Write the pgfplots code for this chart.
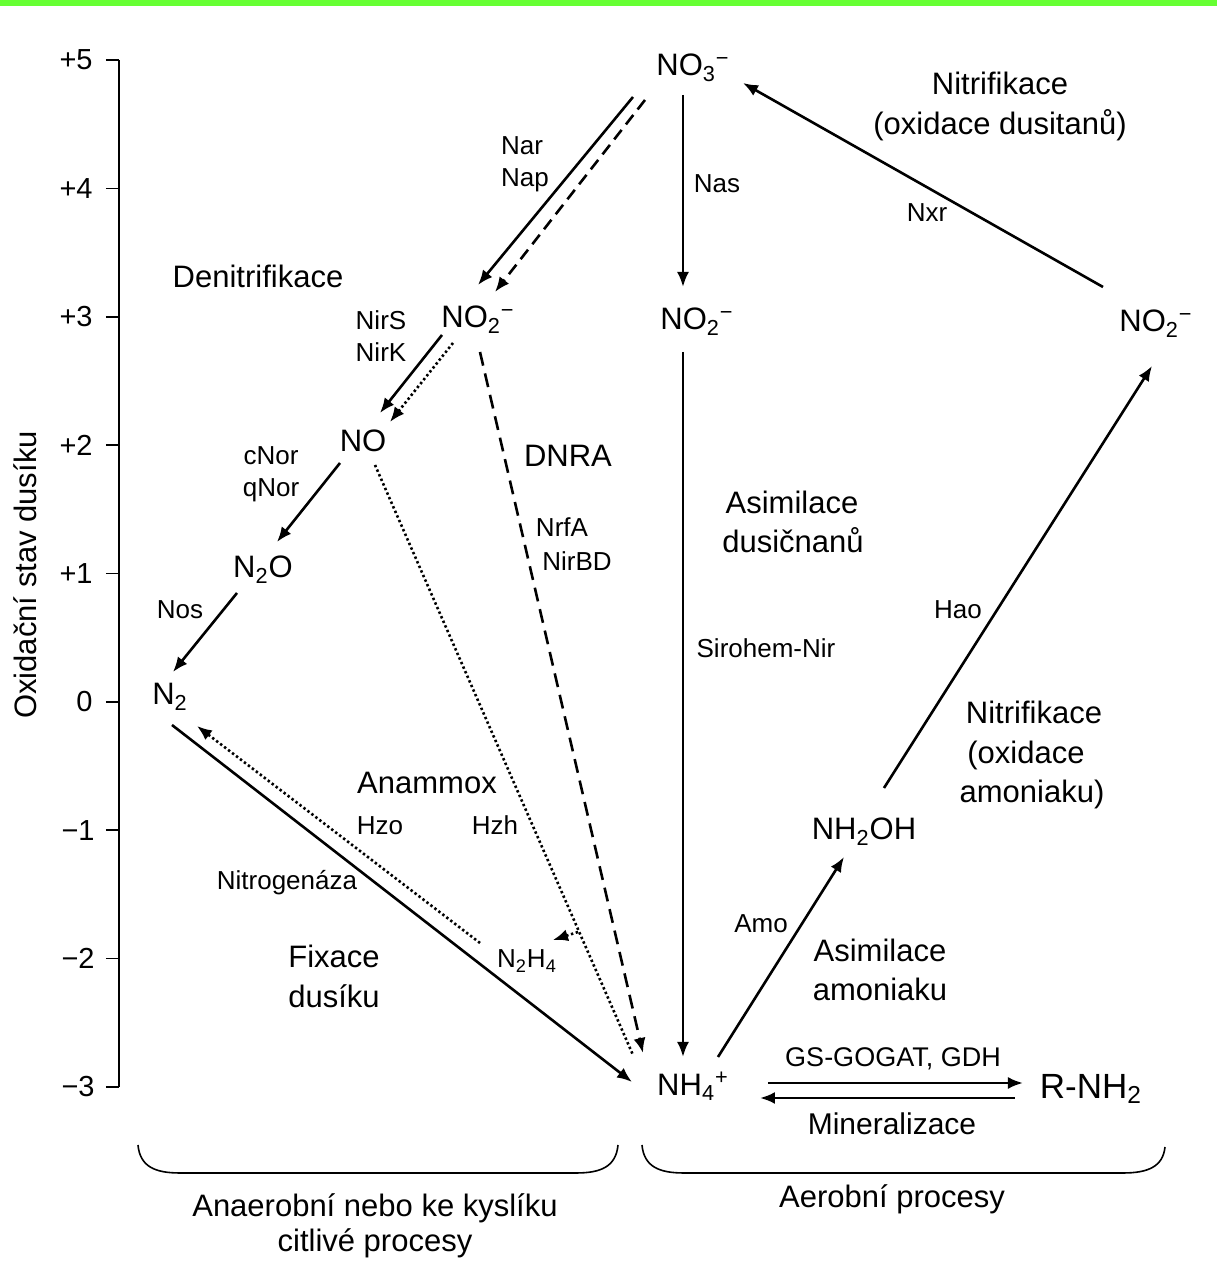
\documentclass[border=0pt]{standalone}
\usepackage{fontspec}
\setmainfont{Liberation Sans}
\usepackage{pgfplots}
\pgfplotsset{compat=1.18}
\usetikzlibrary{arrows.meta}
\newcommand{\dn}[1]{\textsubscript{#1}}
\newcommand{\up}[1]{\textsuperscript{#1}}
\tikzset{
  arr/.style={line width=1.3pt,-{Latex[length=7.5pt,width=6pt]}},
  dsh/.style={line width=1.3pt,dash pattern=on 6pt off 3.5pt,-{Latex[length=7.5pt,width=6pt]}},
  dot/.style={line width=1.3pt,dash pattern=on 1.2pt off 1.3pt},
  big/.style={font=\fontsize{15.5}{18}\selectfont,anchor=base,inner sep=0pt},
  sp/.style={font=\fontsize{15.5}{18}\selectfont,anchor=base,inner sep=0pt},
  sm/.style={font=\fontsize{13}{16}\selectfont,anchor=base,inner sep=0pt},
  tk/.style={font=\fontsize{14.5}{16}\selectfont,anchor=east,inner sep=0pt},
}
\begin{document}
\begin{tikzpicture}
\begin{axis}[width=608.5pt,height=634pt,scale only axis,
  xmin=0,xmax=1217,ymin=-4.4098,ymax=5.4676,hide axis,clip=false]
\path (axis cs:0,-4.4098) rectangle (axis cs:1217,5.4676);
% green band
\fill[color={rgb,255:red,102;green,255;blue,51}] (axis cs:0,5.4676) rectangle (axis cs:1217,5.4208);
% y axis (oxidation state)
\addplot[line width=0.8pt] coordinates {(119,-3) (119,5)};
\draw[line width=0.8pt] (axis cs:106,5) -- (axis cs:119,5);
\draw[line width=0.8pt] (axis cs:106,4) -- (axis cs:119,4);
\draw[line width=0.8pt] (axis cs:106,3) -- (axis cs:119,3);
\draw[line width=0.8pt] (axis cs:106,2) -- (axis cs:119,2);
\draw[line width=0.8pt] (axis cs:106,1) -- (axis cs:119,1);
\draw[line width=0.8pt] (axis cs:106,0) -- (axis cs:119,0);
\draw[line width=0.8pt] (axis cs:106,-1) -- (axis cs:119,-1);
\draw[line width=0.8pt] (axis cs:106,-2) -- (axis cs:119,-2);
\draw[line width=0.8pt] (axis cs:106,-3) -- (axis cs:119,-3);
\node[tk] at (axis cs:93,5) {+5};
\node[tk] at (axis cs:93,4) {+4};
\node[tk] at (axis cs:93,3) {+3};
\node[tk] at (axis cs:93,2) {+2};
\node[tk] at (axis cs:93,1) {+1};
\node[tk] at (axis cs:93,0) {0};
\node[tk] at (axis cs:95,-1) {−1};
\node[tk] at (axis cs:95,-2) {−2};
\node[tk] at (axis cs:95,-3) {−3};
\node[font=\fontsize{15.5}{18}\selectfont,rotate=90,inner sep=0pt] at (axis cs:25,0.9885) {Oxidační stav dusíku};

% arrows
\addplot[arr] coordinates {(633,4.7120) (478,3.2475)};          % Nar/Nap
\addplot[dsh] coordinates {(645,4.6886) (495,3.1930)};
\addplot[arr] coordinates {(683,4.7276) (683,3.2320)};          % Nas
\addplot[arr] coordinates {(1103,3.2320) (743,4.8211)};         % Nxr
\addplot[arr] coordinates {(442,2.8581) (380,2.2505)};          % NirS
\addplot[dot,-{Latex[length=7.5pt,width=6pt]}] coordinates {(453,2.7957) (390,2.1804)};
\addplot[dsh,dash pattern=on 7pt off 4pt] coordinates {(480,2.7256) (643,-2.7350)}; % DNRA
\addplot[dot] coordinates {(375,1.8454) (633,-2.7506)};         % NO -> NH4 (anammox)
\addplot[dot,-{Latex[length=7.5pt,width=6pt]}] coordinates {(578,-1.7924) (553,-1.8547)};
\addplot[arr] coordinates {(340,1.8610) (277,1.2456)};          % cNor
\addplot[arr] coordinates {(237,0.8483) (173,0.2329)};          % Nos
\addplot[arr] coordinates {(172,-0.1799) (632,-2.9609)};        % fixation
\addplot[dot,-{Latex[length=7.5pt,width=6pt]}] coordinates {(480,-1.8781) (197,-0.1877)}; % N2H4 -> N2
\addplot[arr] coordinates {(683,2.7256) (683,-2.7661)};         % Sirohem-Nir
\addplot[arr] coordinates {(718,-2.7661) (844,-1.2082)};        % Amo
\addplot[arr] coordinates {(884,-0.6707) (1152,2.6166)};        % Hao
\addplot[arr] coordinates {(768,-2.9687) (1023,-2.9687)};       % GS-GOGAT
\addplot[arr] coordinates {(1015,-3.0855) (760,-3.0855)};       % Mineralizace

% braces
\draw[line width=0.8pt] (axis cs:138,-3.4516) .. controls (axis cs:140,-3.62) and (axis cs:155,-3.6697) .. (axis cs:180,-3.6697)
  -- (axis cs:576,-3.6697) .. controls (axis cs:601,-3.6697) and (axis cs:616,-3.62) .. (axis cs:618,-3.4516);
\draw[line width=0.8pt] (axis cs:642,-3.4516) .. controls (axis cs:644,-3.62) and (axis cs:659,-3.6697) .. (axis cs:684,-3.6697)
  -- (axis cs:1123,-3.6697) .. controls (axis cs:1148,-3.6697) and (axis cs:1163,-3.62) .. (axis cs:1165,-3.4672);

% species
\node[sp] at (axis cs:693,4.8756) {NO\dn{3}\up{−}};
\node[sp] at (axis cs:478,2.9126) {NO\dn{2}\up{−}};
\node[sp] at (axis cs:697,2.8970) {NO\dn{2}\up{−}};
\node[sp] at (axis cs:1156,2.8814) {NO\dn{2}\up{−}};
\node[sp] at (axis cs:363,1.9467) {NO};
\node[sp] at (axis cs:263,0.9652) {N\dn{2}O};
\node[sp] at (axis cs:170,-0.0241) {N\dn{2}};
\node[sm] at (axis cs:527,-2.0729) {N\dn{2}H\dn{4}};
\node[sp] at (axis cs:693,-3.0622) {NH\dn{4}\up{+}};
\node[sp] at (axis cs:864,-1.0758) {NH\dn{2}OH};
\node[font=\fontsize{17.5}{20}\selectfont,anchor=base,inner sep=0pt] at (axis cs:1091,-3.0864) {R-NH\dn{2}};

% enzyme labels
\node[sm] at (axis cs:522,4.2602) {Nar};
\node[sm] at (axis cs:525,4.0109) {Nap};
\node[sm] at (axis cs:717,3.9642) {Nas};
\node[sm] at (axis cs:927,3.7383) {Nxr};
\node[sm] at (axis cs:381,2.8970) {NirS};
\node[sm] at (axis cs:381,2.6477) {NirK};
\node[sm] at (axis cs:271,1.8454) {cNor};
\node[sm] at (axis cs:271,1.5961) {qNor};
\node[sm] at (axis cs:562,1.2845) {NrfA};
\node[sm] at (axis cs:577,1.0197) {NirBD};
\node[sm] at (axis cs:180,0.6458) {Nos};
\node[sm] at (axis cs:766,0.3420) {Sirohem-Nir};
\node[sm] at (axis cs:958,0.6458) {Hao};
\node[sm] at (axis cs:380,-1.0368) {Hzo};
\node[sm] at (axis cs:495,-1.0368) {Hzh};
\node[sm] at (axis cs:287,-1.4653) {Nitrogenáza};
\node[sm] at (axis cs:761,-1.8002) {Amo};
\node[sm,font=\fontsize{13.5}{16}\selectfont] at (axis cs:893,-2.8440) {GS-GOGAT, GDH};
\node[big,font=\fontsize{15}{17}\selectfont] at (axis cs:892,-3.3737) {Mineralizace};

% process labels
\node[big] at (axis cs:1000,4.7276) {Nitrifikace};
\node[big] at (axis cs:1000,4.4160) {(oxidace dusitanů)};
\node[big] at (axis cs:258,3.2242) {Denitrifikace};
\node[big] at (axis cs:568,1.8298) {DNRA};
\node[big] at (axis cs:792,1.4637) {Asimilace};
\node[big] at (axis cs:793,1.1599) {dusičnanů};
\node[big] at (axis cs:1034,-0.1722) {Nitrifikace};
\node[big] at (axis cs:1026,-0.4837) {(oxidace};
\node[big] at (axis cs:1032,-0.7875) {amoniaku)};
\node[big] at (axis cs:427,-0.7174) {Anammox};
\node[big] at (axis cs:334,-2.0729) {Fixace};
\node[big] at (axis cs:334,-2.3844) {dusíku};
\node[big] at (axis cs:880,-2.0261) {Asimilace};
\node[big] at (axis cs:880,-2.3299) {amoniaku};
\node[big] at (axis cs:375,-4.0125) {Anaerobní nebo ke kyslíku};
\node[big] at (axis cs:375,-4.2851) {citlivé procesy};
\node[big] at (axis cs:892,-3.9424) {Aerobní procesy};
\end{axis}
\end{tikzpicture}
\end{document}
